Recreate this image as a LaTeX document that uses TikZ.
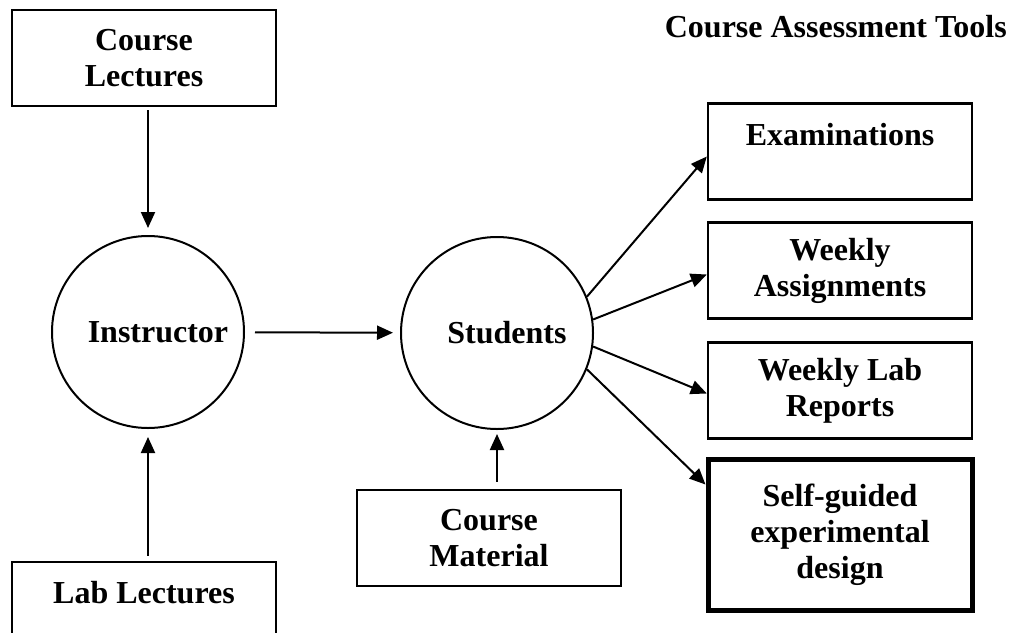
\documentclass[tikz,border=0pt]{standalone}
\usepackage{fontspec}
\setmainfont{Liberation Serif}
\usetikzlibrary{arrows.meta}

\begin{document}
\begin{tikzpicture}[x=1pt,y=-1pt,
    box/.style={draw,line width=2.4pt,minimum width=264pt,minimum height=96pt,align=center,inner sep=0pt},
    oneline/.style={text height=24pt,text depth=37pt},
    circ/.style={draw,circle,line width=2pt,minimum size=192pt,inner sep=0pt,execute at begin node=\hspace*{20pt}},
    arr/.style={-{Triangle[length=16pt,width=14pt]},line width=2pt}]
    \fontsize{32}{36}\selectfont\bfseries
    \useasboundingbox (0,0) rectangle (1014,632);
    \clip (0,0) rectangle (1014,632);
    % inputs and the two actors
    \node[box] (lect) at (144,58) {Course\\Lectures};
    \node[box,oneline] (lab) at (144,610) {Lab Lectures};
    \node[circ] (inst) at (148,332) {Instructor};
    \node[circ] (stu) at (497,333) {Students};
    \node[box] (mat) at (489,538) {Course\\Material};
    % assessment column
    \node[anchor=base east,inner sep=0pt] (title) at (1007,37) {Course Assessment Tools};
    \node[box,oneline] (exam) at (840,151.5) {Examinations};
    \node[box] (assign) at (840,270.5) {Weekly\\Assignments};
    \node[box] (labrep) at (840,390.5) {Weekly Lab\\Reports};
    \node[box,line width=5pt,minimum height=151pt] (self) at (840,534.5) {Self-guided\\experimental\\design};
    % connectors
    \draw[arr,shorten <=3pt,shorten >=7pt] (inst |- lect.south) -- (inst.north);
    \draw[arr,shorten <=5pt,shorten >=8pt] (inst |- lab.north) -- (inst.south);
    \draw[arr,shorten <=7pt,shorten >=4pt] (stu |- mat.north) -- (stu.south);
    \draw[arr,shorten <=10pt,shorten >=7pt] (inst) -- (stu);
    \draw[arr] (stu.22) -- ([yshift=-5pt]exam.west);
    \draw[arr] (stu.8) -- ([yshift=-4pt]assign.west);
    \draw[arr] (stu.-8) -- ([yshift=-3pt]labrep.west);
    \draw[arr] (stu.-22) -- ([yshift=-28pt]self.north west);
\end{tikzpicture}
\end{document}
